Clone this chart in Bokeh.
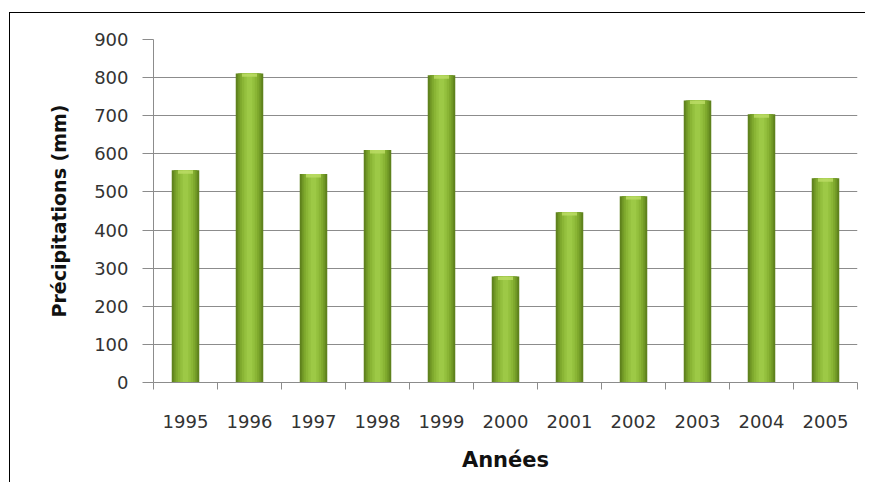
from bokeh.plotting import figure
from bokeh.models import FixedTicker, Range1d
from bokeh.embed import file_html
from bokeh.resources import INLINE

years = ["1995", "1996", "1997", "1998", "1999", "2000", "2001", "2002", "2003", "2004", "2005"]
precip = [557, 811, 547, 610, 806, 278, 447, 489, 740, 704, 536]
y_ticks = [0, 100, 200, 300, 400, 500, 600, 700, 800, 900]

n = len(years)
xc = [i + 0.5 for i in range(n)]
bounds = list(range(n + 1))

p = figure(width=856, height=470, output_backend="svg", toolbar_location=None,
           x_range=Range1d(0, n), y_range=Range1d(0, 900),
           min_border_left=143, min_border_right=9, min_border_top=26, min_border_bottom=101,
           margin=(12, 0, 0, 9),
           styles={"border-left": "1.5px solid black", "border-top": "1.5px solid black"})
p.outline_line_color = None
p.background_fill_color = "white"
p.border_fill_color = "white"

p.xgrid.grid_line_color = None
p.ygrid.ticker = FixedTicker(ticks=y_ticks)
p.ygrid.grid_line_color = "#8c8c8c"
p.ygrid.grid_line_width = 1

# bars: cylinder shading from layered vbars
bw = 0.43
layers = [(1.0, "#5f821d"), (0.86, "#6f9625"), (0.72, "#7ea82d"), (0.56, "#8ab535"), (0.38, "#94c03e"), (0.2, "#9dc946")]
for frac, col in layers:
    p.vbar(x=xc, top=precip, bottom=0, width=bw * frac, fill_color=col, line_color=None)
cap_bottom = [v - 9 for v in precip]
p.vbar(x=xc, top=precip, bottom=cap_bottom, width=bw * 0.55, fill_color="#bddd66", line_color=None, fill_alpha=0.8)

# y axis
yax = p.yaxis[0]
yax.ticker = FixedTicker(ticks=y_ticks)
yax.axis_line_color = "#8c8c8c"
yax.major_tick_line_color = "#8c8c8c"
yax.major_tick_out = 11
yax.major_tick_in = 0
yax.minor_tick_line_color = None
yax.major_label_standoff = 14
yax.major_label_text_font = "DejaVu Sans"
yax.major_label_text_font_size = "18px"
yax.major_label_text_color = "#333333"
yax.axis_label = "Précipitations (mm)"
yax.axis_label_text_font = "DejaVu Sans"
yax.axis_label_text_font_style = "bold"
yax.axis_label_text_font_size = "19px"
yax.axis_label_text_color = "#111111"
yax.axis_label_standoff = 21

# x axis
xax = p.xaxis[0]
xax.ticker = FixedTicker(ticks=xc, minor_ticks=bounds)
xax.major_label_overrides = {c: y for c, y in zip(xc, years)}
xax.axis_line_color = "#8c8c8c"
xax.major_tick_line_color = None
xax.major_tick_out = 0
xax.major_tick_in = 0
xax.minor_tick_line_color = "#8c8c8c"
xax.minor_tick_out = 7
xax.minor_tick_in = 0
xax.major_label_standoff = 25
xax.major_label_text_font = "DejaVu Sans"
xax.major_label_text_font_size = "18px"
xax.major_label_text_color = "#333333"
xax.axis_label = "Années"
xax.axis_label_text_font = "DejaVu Sans"
xax.axis_label_text_font_style = "bold"
xax.axis_label_text_font_size = "21px"
xax.axis_label_text_color = "#111111"
xax.axis_label_standoff = 17

open("out.html", "w").write(file_html(p, INLINE))
